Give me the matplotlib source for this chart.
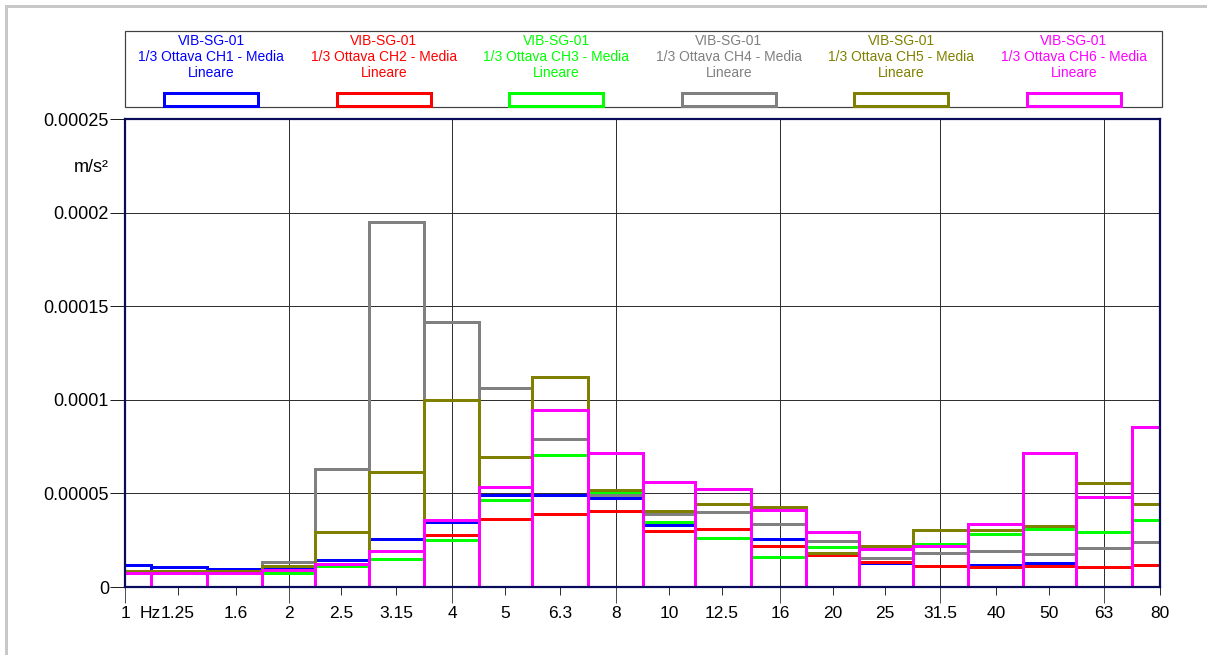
import numpy as np
import matplotlib
matplotlib.use("Agg")
import matplotlib.pyplot as plt
from matplotlib.patches import Rectangle
from matplotlib.lines import Line2D
from matplotlib.ticker import FixedLocator, FixedFormatter

plt.rcParams["font.family"] = ["Liberation Sans", "DejaVu Sans"]

# 1/3-octave band centre frequencies (Hz)
bands = [1, 1.25, 1.6, 2, 2.5, 3.15, 4, 5, 6.3, 8, 10, 12.5, 16, 20, 25,
         31.5, 40, 50, 63, 80]
band_labels = ["1", "1.25", "1.6", "2", "2.5", "3.15", "4", "5", "6.3", "8",
               "10", "12.5", "16", "20", "25", "31.5", "40", "50", "63", "80"]
octave_bands = [1, 2, 4, 8, 16, 31.5, 63]

# Band levels, m/s² (x 1e-5)
ch1 = [1.20, 1.07, 0.98, 1.09, 1.46, 2.55, 3.47, 4.90, 4.94, 4.78,
       3.30, 2.63, 2.57, 1.72, 1.30, 1.13, 1.16, 1.28, 1.08, 1.15]
ch2 = [0.76, 0.76, 0.76, 0.92, 1.20, 1.48, 2.76, 3.65, 3.91, 4.08,
       2.99, 3.12, 2.18, 1.71, 1.33, 1.12, 1.07, 1.11, 1.07, 1.16]
ch3 = [0.76, 0.76, 0.76, 0.77, 1.14, 1.48, 2.50, 4.67, 7.05, 5.04,
       3.48, 2.63, 1.60, 2.14, 2.04, 2.28, 2.85, 3.12, 2.96, 3.60]
ch4 = [0.85, 0.85, 0.85, 1.34, 6.29, 19.51, 14.16, 10.64, 7.89, 4.90,
       3.88, 3.98, 3.39, 2.46, 1.56, 1.84, 1.92, 1.75, 2.07, 2.39]
ch5 = [0.88, 0.88, 0.86, 1.11, 2.94, 6.15, 10.01, 6.95, 11.20, 5.17,
       4.06, 4.42, 4.28, 1.82, 2.18, 3.03, 3.07, 3.24, 5.56, 4.46]
ch6 = [0.77, 0.77, 0.77, 0.93, 1.23, 1.92, 3.60, 5.35, 9.43, 7.18,
       5.61, 5.26, 4.10, 2.94, 2.01, 2.19, 3.35, 7.18, 4.83, 8.55]

series_values = [ch1, ch2, ch3, ch4, ch5, ch6]
series_labels = [f"VIB-SG-01\n1/3 Ottava CH{i} - Media\nLineare" for i in range(1, 7)]
series_colors = ["#0000FF", "#FF0000", "#00FF00", "#808080", "#808000", "#FF00FF"]

y_ticks = [0, 0.00005, 0.0001, 0.00015, 0.0002, 0.00025]
y_tick_labels = ["0", "0.00005", "0.0001", "0.00015", "0.0002", "0.00025"]

W, H = 1207, 655
DPI = 100
PX = 72.0 / DPI  # points per pixel


def fx(px):
    return px / W


def fy(py):
    return 1 - py / H


fig = plt.figure(figsize=(W / DPI, H / DPI), dpi=DPI)
fig.patch.set_facecolor("white")

# light outer frame
fig.add_artist(Line2D([fx(6), fx(6)], [0, fy(6)], color="#c8c8c8", lw=3 * PX))
fig.add_artist(Line2D([fx(6), 1], [fy(6), fy(6)], color="#c8c8c8", lw=3 * PX))

ax_l, ax_r, ax_t, ax_b = 125, 1160, 119, 587
ax = fig.add_axes([fx(ax_l), fy(ax_b), fx(ax_r - ax_l), (ax_b - ax_t) / H])

# band edges: geometric means between neighbouring centres
centres = np.array(bands, dtype=float)
inner = np.sqrt(centres[:-1] * centres[1:])
edges = np.concatenate([[centres[0] / 2 ** (1 / 6)], inner, [centres[-1] * 2 ** (1 / 6)]])

for k, (vals, col) in enumerate(zip(series_values, series_colors)):
    ax.bar(edges[:-1], np.array(vals) * 1e-5, width=np.diff(edges), align="edge",
           fill=False, edgecolor=col, linewidth=3 * PX, zorder=3 + k * 0.1,
           joinstyle="miter")

ax.set_xscale("log")
ax.set_xlim(1, 80)
ax.set_ylim(0, 0.00025)

major_idx = [bands.index(b) for b in octave_bands]
minor_idx = [i for i in range(len(bands)) if i not in major_idx]
maj_labels = [band_labels[i] for i in major_idx]
min_labels = [band_labels[i] for i in minor_idx]

ax.xaxis.set_major_locator(FixedLocator([bands[i] for i in major_idx]))
ax.xaxis.set_major_formatter(FixedFormatter(maj_labels))
ax.xaxis.set_minor_locator(FixedLocator([bands[i] for i in minor_idx]))
ax.xaxis.set_minor_formatter(FixedFormatter(min_labels))

ax.set_yticks(y_ticks)
ax.set_yticklabels(y_tick_labels)

tick_fs = 12.5
ax.tick_params(axis="x", which="major", direction="out", length=16 * PX,
               width=1 * PX, color="#505050", pad=3 * PX, labelsize=tick_fs)
ax.tick_params(axis="x", which="minor", direction="out", length=8 * PX,
               width=1 * PX, color="#303030", pad=11 * PX, labelsize=tick_fs)
ax.tick_params(axis="y", which="major", direction="out", length=15 * PX,
               width=1 * PX, color="#202020", pad=1 * PX, labelsize=13)
ax.tick_params(axis="y", which="minor", left=False)

ax.grid(True, which="major", axis="both", color="#303030", linewidth=1 * PX, zorder=1)
ax.set_axisbelow(True)

for s in ax.spines.values():
    s.set_color("#0b0b5c")
    s.set_linewidth(2.2 * PX)
    s.set_zorder(10)

# unit labels
ax.annotate("Hz", xy=(1, 0), xycoords=("data", "axes fraction"),
            xytext=(15 * PX, -19 * PX), textcoords="offset points",
            ha="left", va="top", fontsize=tick_fs)
fig.text(fx(109), fy(167), "m/s²", ha="right", va="center", fontsize=13)

# legend panel
leg_l, leg_r, leg_t, leg_b = 125, 1162, 31, 107
fig.add_artist(Rectangle((fx(leg_l), fy(leg_b)), fx(leg_r - leg_l), (leg_b - leg_t) / H,
                         transform=fig.transFigure, fill=False, edgecolor="#404040",
                         linewidth=1.2 * PX))
col_w = (1160 - 125) / 6.0
for k, (lab, col) in enumerate(zip(series_labels, series_colors)):
    cx = 125 + col_w * (k + 0.5)
    for j, line in enumerate(lab.split("\n")):
        fig.text(fx(cx), fy(40.7 + 16 * j), line, ha="center", va="center",
                 fontsize=10, color=col)
    sw, sh = 94, 12
    fig.add_artist(Rectangle((fx(cx - sw / 2), fy(105.5)), fx(sw), sh / H,
                             transform=fig.transFigure, fill=False, edgecolor=col,
                             linewidth=3 * PX, joinstyle="miter"))

fig.savefig("out.png", dpi=DPI, facecolor="white")
